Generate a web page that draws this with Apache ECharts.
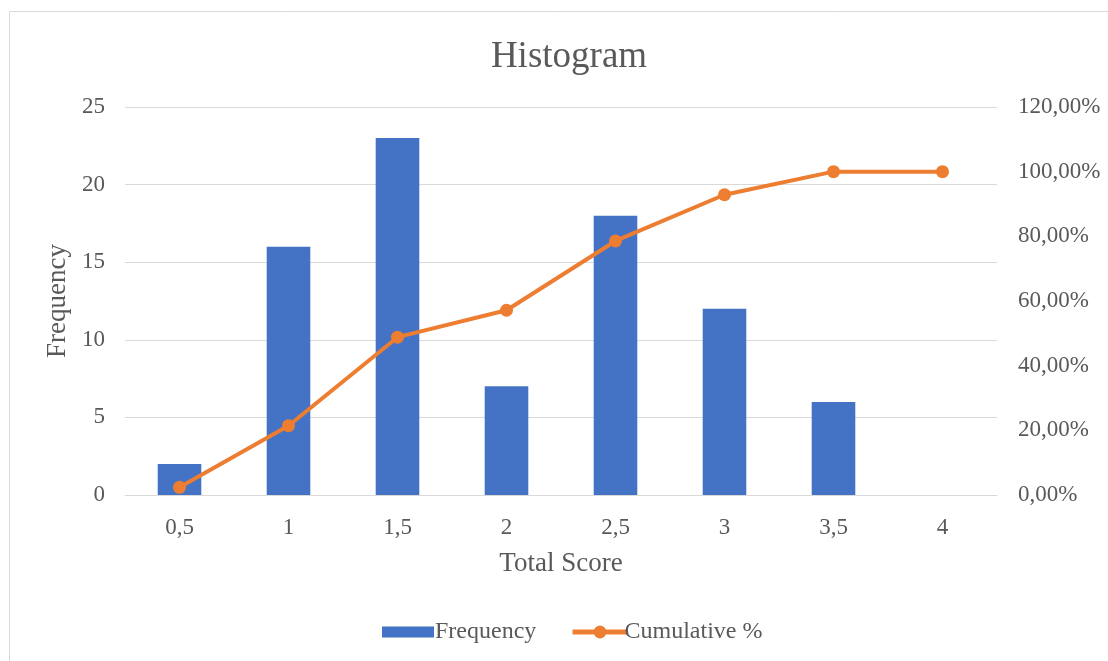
<!DOCTYPE html>
<html><head><meta charset="utf-8">
<script src="https://cdn.jsdelivr.net/npm/echarts@6/dist/echarts.min.js"></script>
<style>html,body{margin:0;padding:0;background:#fff}#c{width:1108px;height:661px}</style>
</head><body><div id="c"></div>
<script>
const categories = ['0,5','1','1,5','2','2,5','3','3,5','4'];
const frequency = [2,16,23,7,18,12,6,0];
const cumulative = [2.38,21.43,48.81,57.14,78.57,92.86,100,100];
const leftTicks = [0,5,10,15,20,25];
const rightTicks = [0,20,40,60,80,100,120];

const font = 'Liberation Serif';
const txt = '#595959';
const chart = echarts.init(document.getElementById('c'));
chart.setOption({
  animation:false,
  graphic:[{type:'rect',shape:{x:9.5,y:11.5,width:1110,height:660},style:{fill:'none',stroke:'#d9d9d9',lineWidth:1},silent:true}],
  title:{text:'Histogram',left:564,top:34,textAlign:'center',textStyle:{fontFamily:font,fontSize:37,fontWeight:'normal',color:txt}},
  grid:{left:125,right:111,top:107,bottom:166},
  legend:[
    {left:377,top:615,itemWidth:52,itemHeight:11,
     textStyle:{fontFamily:font,fontSize:24,color:txt,padding:[0,0,0,-4]},
     data:[{name:'Frequency',icon:'rect'}]},
    {left:565,top:615,itemWidth:55,itemHeight:16,
     lineStyle:{width:5},
     textStyle:{fontFamily:font,fontSize:24,color:txt,padding:[0,0,0,-8]},
     data:[{name:'Cumulative %'}]}
  ],
  xAxis:{type:'category',data:categories,name:'Total Score',nameLocation:'middle',nameGap:55,
    nameTextStyle:{fontFamily:font,fontSize:27,color:txt},
    axisLine:{lineStyle:{color:'#d9d9d9'}},axisTick:{show:false},
    axisLabel:{fontFamily:font,fontSize:23,color:txt,margin:21}},
  yAxis:[
    {type:'value',min:0,max:25,interval:5,name:'Frequency',nameLocation:'middle',nameGap:50,
     nameTextStyle:{fontFamily:font,fontSize:27,color:txt},
     axisLabel:{fontFamily:font,fontSize:23,color:txt,margin:20},
     splitLine:{lineStyle:{color:'#d9d9d9',width:1}},axisLine:{show:false},axisTick:{show:false}},
    {type:'value',min:0,max:120,interval:20,position:'right',
     axisLabel:{fontFamily:font,fontSize:23,color:txt,margin:21,formatter:v=>v.toFixed(2).replace('.',',')+'%'},
     splitLine:{show:false},axisLine:{show:false},axisTick:{show:false}}
  ],
  series:[
    {name:'Frequency',type:'bar',data:frequency,barWidth:'40%',itemStyle:{color:'#4472c4'},yAxisIndex:0},
    {name:'Cumulative %',type:'line',data:cumulative,yAxisIndex:1,symbol:'circle',symbolSize:13,
     lineStyle:{color:'#ed7d31',width:4},itemStyle:{color:'#ed7d31'}}
  ]
});
</script></body></html>
